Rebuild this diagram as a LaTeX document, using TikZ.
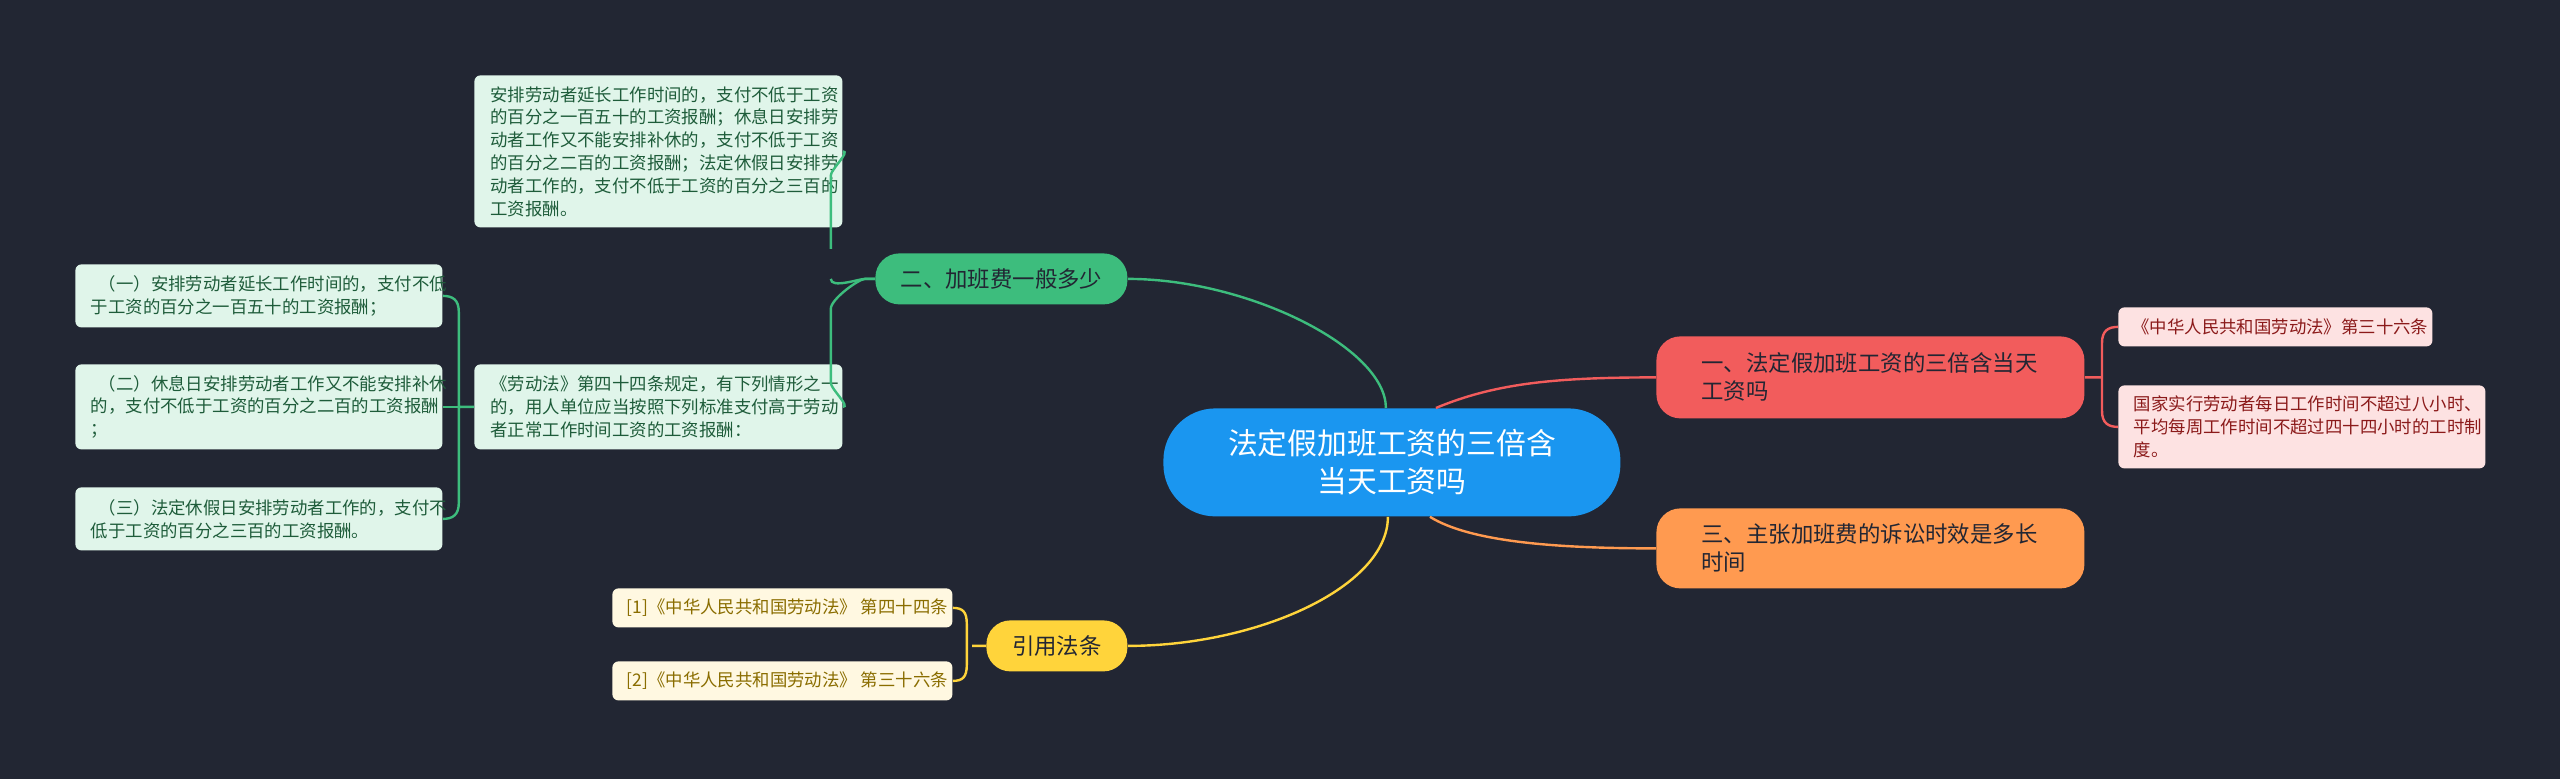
\documentclass[tikz,border=0pt]{standalone}
\usepackage{fontspec}
\setmainfont{Noto Sans CJK SC}
\begin{document}
\begin{tikzpicture}[x=0.5pt,y=-0.5pt,
  box/.style={anchor=north west,rounded corners=3pt,inner sep=0pt,align=left},
  gleaf/.style={box,fill=leafg,text=textg,font=\fontsize{8.7pt}{11.4pt}\selectfont},
  rleaf/.style={box,fill=leafr,text=textr,font=\fontsize{8.7pt}{11.4pt}\selectfont},
  yleaf/.style={box,fill=leafy,text=texty,font=\fontsize{8.7pt}{11.4pt}\selectfont},
  mainn/.style={box,rounded corners=12pt,font=\fontsize{11.2pt}{14pt}\selectfont},
  gl/.style={draw=cg,line width=1.2pt},
  rl/.style={draw=cr,line width=1.2pt},
  ol/.style={draw=co,line width=1.2pt},
  yl/.style={draw=cy,line width=1.2pt}]
\definecolor{bg}{HTML}{222633}
\definecolor{leafg}{HTML}{E0F5EA}\definecolor{textg}{HTML}{1E5C3A}
\definecolor{leafr}{HTML}{FDE2E2}\definecolor{textr}{HTML}{8B1A1A}
\definecolor{leafy}{HTML}{FFF8E1}\definecolor{texty}{HTML}{8A6D00}
\definecolor{cg}{HTML}{3DBD7D}\definecolor{cr}{HTML}{F25C5C}
\definecolor{co}{HTML}{FF9A50}\definecolor{cy}{HTML}{FFD43B}
\definecolor{cc}{HTML}{1A96F0}
\fill[bg] (0,0) rectangle (2560,779);
\useasboundingbox (0,0) rectangle (2560,779);
% center
\node[box,rounded corners=26pt,fill=cc,text=white,minimum width=457*0.5pt,minimum height=108*0.5pt,align=center,font=\fontsize{14.9pt}{19pt}\selectfont] (ctr) at (1163,408) {\parbox{200pt}{\centering 法定假加班工资的三倍含\\当天工资吗}};
% main nodes
\node[mainn,fill=cr,text=bg,minimum width=428*0.5pt,minimum height=82*0.5pt] (n1) at (1656,336) {\hspace*{21pt}\parbox{190pt}{一、法定假加班工资的三倍含当天\\工资吗}};
\node[mainn,fill=co,text=bg,minimum width=428*0.5pt,minimum height=80*0.5pt] (n3) at (1656,508) {\hspace*{21pt}\parbox{190pt}{三、主张加班费的诉讼时效是多长\\时间}};
\node[mainn,fill=cg,text=bg,minimum width=252*0.5pt,minimum height=51*0.5pt,align=center] (n2) at (875,253) {二、加班费一般多少};
\node[mainn,fill=cy,text=bg,minimum width=141*0.5pt,minimum height=51*0.5pt,align=center] (n4) at (986,620) {引用法条};
% green leaves
\node[gleaf,minimum width=368*0.5pt,minimum height=152*0.5pt] (t1) at (474,75) {\hspace*{6pt}\parbox{174pt}{安排劳动者延长工作时间的，支付不低于工资\\的百分之一百五十的工资报酬；休息日安排劳\\动者工作又不能安排补休的，支付不低于工资\\的百分之二百的工资报酬；法定休假日安排劳\\动者工作的，支付不低于工资的百分之三百的\\工资报酬。}};
\node[gleaf,minimum width=368*0.5pt,minimum height=85*0.5pt] (t2) at (474,364) {\hspace*{6pt}\parbox{174pt}{《劳动法》第四十四条规定，有下列情形之一\\的，用人单位应当按照下列标准支付高于劳动\\者正常工作时间工资的工资报酬：}};
\node[gleaf,minimum width=367*0.5pt,minimum height=63*0.5pt] (l1) at (75,264) {\hspace*{6pt}\parbox{174pt}{\hspace*{4pt}（一）安排劳动者延长工作时间的，支付不低\\于工资的百分之一百五十的工资报酬；}};
\node[gleaf,minimum width=367*0.5pt,minimum height=85*0.5pt] (l2) at (75,364) {\hspace*{6pt}\parbox{174pt}{\hspace*{4pt}（二）休息日安排劳动者工作又不能安排补休\\的，支付不低于工资的百分之二百的工资报酬\\；}};
\node[gleaf,minimum width=367*0.5pt,minimum height=63*0.5pt] (l3) at (75,487) {\hspace*{6pt}\parbox{174pt}{\hspace*{4pt}（三）法定休假日安排劳动者工作的，支付不\\低于工资的百分之三百的工资报酬。}};
% red leaves
\node[rleaf,minimum width=314*0.5pt,minimum height=39*0.5pt] (r1) at (2118,307) {\hspace*{5pt}《中华人民共和国劳动法》第三十六条};
\node[rleaf,minimum width=367*0.5pt,minimum height=83*0.5pt] (r2) at (2118,385) {\hspace*{6pt}\parbox{174pt}{国家实行劳动者每日工作时间不超过八小时、\\平均每周工作时间不超过四十四小时的工时制\\度。}};
% yellow leaves
\node[yleaf,minimum width=340*0.5pt,minimum height=39*0.5pt] (y1) at (612,588) {\hspace*{5pt}[1]《中华人民共和国劳动法》 第四十四条};
\node[yleaf,minimum width=340*0.5pt,minimum height=39*0.5pt] (y2) at (612,661) {\hspace*{5pt}[2]《中华人民共和国劳动法》 第三十六条};
% main connectors
\draw[gl] ([xshift=-3pt]ctr.north) .. controls +(0,-60) and +(120,0) .. (n2.east);
\draw[rl] ([xshift=22pt]ctr.north) .. controls +(60,-25) and +(-100,0) .. (n1.west);
\draw[ol] ([xshift=19pt]ctr.south) .. controls +(40,25) and +(-100,0) .. (n3.west);
\draw[yl] ([xshift=-2pt]ctr.south) .. controls +(0,70) and +(130,0) .. (n4.east);
% brackets
\draw[gl] (n2.west) -- +(-10,0) .. controls +(-6,0) and +(0,10) .. ([xshift=-6pt]t1.east |- n2.west) ++(0,-30) -- ([xshift=-6pt,yshift=-12pt]t1.east) .. controls +(0,-6) and +(8,0) .. (t1.east);
\draw[gl] (n2.west) -- +(-10,0) .. controls +(-6,0) and +(0,-10) .. ([xshift=-6pt,yshift=-15pt]t1.east |- n2.west) -- ([xshift=-6pt,yshift=12pt]t2.east) .. controls +(0,6) and +(8,0) .. (t2.east);
\draw[gl] (t2.west) -- ([xshift=8pt]l2.east) (l1.east) .. controls +(10,0) and +(0,-12) .. ([xshift=8pt,yshift=-8pt]l1.east) -- ([xshift=8pt,yshift=8pt]l3.east) .. controls +(0,12) and +(10,0) .. (l3.east);
\draw[gl] ([xshift=8pt]l2.east) -- (l2.east);
\draw[rl] (n1.east) -- ([xshift=9pt]n1.east) (r1.west) .. controls +(-10,0) and +(0,-12) .. ([xshift=-8pt,yshift=-8pt]r1.west) -- ([xshift=-8pt,yshift=8pt]r2.west) .. controls +(0,12) and +(-10,0) .. (r2.west);
\draw[yl] (n4.west) -- ([xshift=-7pt]n4.west) (y1.east) .. controls +(10,0) and +(0,-12) .. ([xshift=7pt,yshift=-8pt]y1.east) -- ([xshift=7pt,yshift=8pt]y2.east) .. controls +(0,12) and +(10,0) .. (y2.east);
\end{tikzpicture}
\end{document}
